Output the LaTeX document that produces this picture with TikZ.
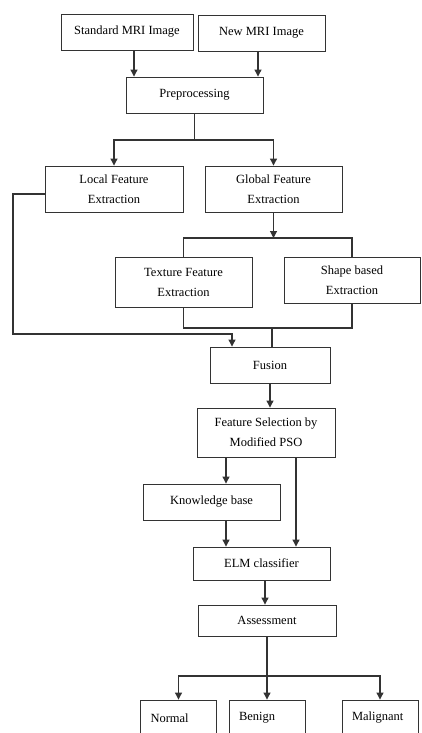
\documentclass[tikz,border=0pt]{standalone}
\usepackage{fontspec}
\setmainfont{Liberation Serif}
\usetikzlibrary{arrows.meta}
\begin{document}
\begin{tikzpicture}[x=1pt,y=-1pt,
  box/.style={draw=black!80, line width=0.9pt, align=center, inner sep=0pt,
    font=\fontsize{12.5}{20}\selectfont},
  leaf/.style={box, align=left, text width=56pt, inner xsep=10pt, minimum height=36pt},
  ln/.style={draw=black!80, line width=1.1pt},
  arr/.style={ln, -{Triangle[length=7pt,width=7pt]}}]
\useasboundingbox (0,0) rectangle (421,733);
\clip (0,0) rectangle (421,733);
\fill[white] (0,0) rectangle (421,733);
% nodes
\node[box, minimum width=132pt, minimum height=36pt] (std) at (127,32) {Standard MRI Image};
\node[box, minimum width=127pt, minimum height=36pt] (new) at (261.5,33) {New MRI Image};
\node[box, minimum width=137pt, minimum height=36pt] (pre) at (194.5,95) {Preprocessing};
\node[box, minimum width=138pt, minimum height=46pt] (loc) at (114,189) {Local Feature\\Extraction};
\node[box, minimum width=137pt, minimum height=46pt] (glo) at (273.5,189) {Global Feature\\Extraction};
\node[box, minimum width=137pt, minimum height=50pt] (tex) at (183.5,282) {Texture Feature\\Extraction};
\node[box, minimum width=136pt, minimum height=46pt] (shp) at (352,280) {Shape based\\Extraction};
\node[box, minimum width=120pt, minimum height=36pt] (fus) at (270,365) {Fusion};
\node[box, minimum width=138pt, minimum height=49pt] (fs) at (266,432.5) {Feature Selection by\\Modified PSO};
\node[box, minimum width=137pt, minimum height=36pt] (kb) at (211.5,502) {Knowledge base};
\node[box, minimum width=137pt, minimum height=33pt] (elm) at (261.5,563.5) {ELM classifier};
\node[box, minimum width=138pt, minimum height=31pt] (ass) at (267,620.5) {Assessment};
\node[leaf] (nor) at (178.5,718) {Normal};
\node[leaf] (ben) at (267,718) {Benign};
\node[leaf] (mal) at (380,718) {Malignant};
% junctions
\coordinate (j1) at (194.5,140);
\coordinate (j2) at (273.5,238);
\coordinate (j3) at (272,328);
\coordinate (lft) at (13,334);
\coordinate (j5) at (267,676);
% connectors
\draw[arr] ([xshift=7pt]std.south) -- ([xshift=7pt]std.south |- pre.north);
\draw[arr] ([xshift=-3.5pt]new.south) -- ([xshift=-3.5pt]new.south |- pre.north);
\draw[ln] (pre.south) -- (j1);
\draw[arr] (j1) -| (loc.north);
\draw[arr] (j1) -| (glo.north);
\draw[arr] (glo.south) -- (j2);
\draw[ln] (tex.north) |- (j2) -| (shp.north);
\draw[ln] (tex.south) |- (j3) -| (shp.south);
\draw[ln, line width=1.4pt] (j3) -- (j3 |- fus.north);
\draw[arr] ([yshift=-5pt]loc.west) -| (lft) -| ([xshift=-38pt]fus.north);
\draw[arr] (fus.south) -- (fus.south |- fs.north);
\draw[arr] ([xshift=14.5pt]kb.north |- fs.south) -- ([xshift=14.5pt]kb.north);
\draw[arr] ([xshift=34.5pt]elm.north |- fs.south) -- ([xshift=34.5pt]elm.north);
\draw[arr] ([xshift=14.5pt]kb.south) -- ([xshift=14.5pt]kb.south |- elm.north);
\draw[arr] ([xshift=3.5pt]elm.south) -- ([xshift=3.5pt]elm.south |- ass.north);
\draw[arr] (ass.south) -- (ben.north);
\draw[arr] (j5) -| (nor.north);
\draw[arr] (j5) -| (mal.north);
\end{tikzpicture}
\end{document}
